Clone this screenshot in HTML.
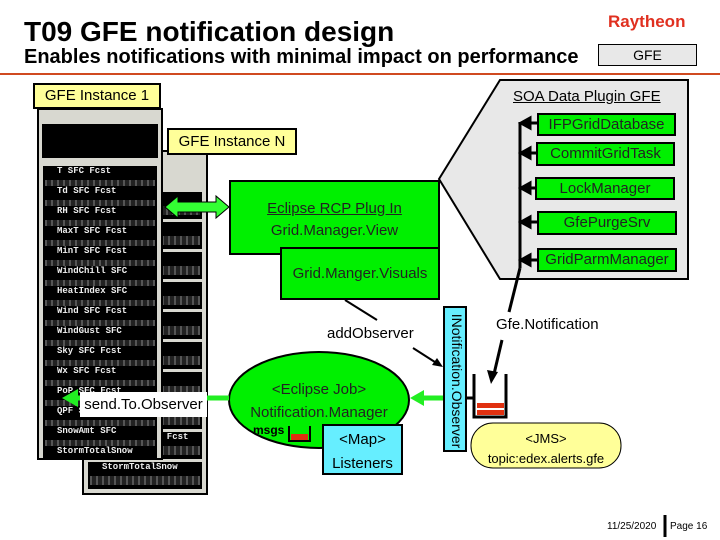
<!DOCTYPE html>
<html><head><meta charset="utf-8"><style>
body{margin:0;width:720px;height:540px;background:#fff;overflow:hidden;font-family:"Liberation Sans",sans-serif;position:relative}
.a{position:absolute}
.g{background:#00f000;border:2px solid #000;box-sizing:border-box;text-align:center;color:#222;font-size:15px}
.y{background:#ffff99;border:2px solid #000;box-sizing:border-box;font-size:15px;text-align:center}
.c{background:#66eeff;border:2px solid #000;box-sizing:border-box;text-align:center;font-size:15px}
.win{background:#d8d8d0;border:2px solid #000;box-sizing:border-box}
.row{position:absolute;left:4px;right:4px;height:27px;background:#000;color:#eee;font:bold 9px "Liberation Mono",monospace;padding-left:14px;box-sizing:border-box;white-space:nowrap;overflow:hidden}
.row:after{content:"";position:absolute;left:2px;right:2px;top:14px;height:9px;background:repeating-linear-gradient(90deg,#555 0 2px,#222 2px 6px)}
</style></head><body>
<div class="a" style="left:24px;top:16px;font-weight:bold;font-size:28px">T09 GFE notification design</div>
<div class="a" style="left:24px;top:46px;font-weight:bold;font-size:20px">Enables notifications with minimal impact on performance</div>
<div class="a" style="left:608px;top:12px;font-weight:bold;font-size:17px;color:#e03020">Raytheon</div>
<div class="a" style="left:598px;top:44px;width:99px;height:22px;background:#e8e8e8;border:1px solid #000;box-sizing:border-box;text-align:center;font-size:14px;line-height:20px">GFE</div>
<div class="a" style="left:0;top:73px;width:720px;height:2px;background:#d04a20"></div>

<!-- window N -->
<div class="a win" style="left:82px;top:150px;width:126px;height:345px">
<div class="row" style="top:40px;left:2px">.</div>
<div class="row" style="top:70px">X)</div><div class="row" style="top:100px">AX)</div><div class="row" style="top:130px">(OAX]</div><div class="row" style="top:160px">(OAX]</div><div class="row" style="top:190px">Fest [OA</div><div class="row" style="top:220px">Fest [OA</div><div class="row" style="top:250px">(OAX]</div><div class="row" style="top:280px">SnowAmt SFC Fcst</div><div class="row" style="top:310px">StormTotalSnow</div>
</div>
<!-- window 1 -->
<div class="a win" style="left:37px;top:108px;width:126px;height:352px">
<div class="a" style="left:3px;top:14px;right:3px;height:34px;background:#000"></div>
<div class="row" style="top:56px">T SFC Fcst</div><div class="row" style="top:76px">Td SFC Fcst</div><div class="row" style="top:96px">RH SFC Fcst</div><div class="row" style="top:116px">MaxT SFC Fcst</div><div class="row" style="top:136px">MinT SFC Fcst</div><div class="row" style="top:156px">WindChill SFC</div><div class="row" style="top:176px">HeatIndex SFC</div><div class="row" style="top:196px">Wind SFC Fcst</div><div class="row" style="top:216px">WindGust SFC</div><div class="row" style="top:236px">Sky SFC Fcst</div><div class="row" style="top:256px">Wx SFC Fcst</div><div class="row" style="top:276px">PoP SFC Fcst</div><div class="row" style="top:296px">QPF SFC</div><div class="row" style="top:316px">SnowAmt SFC</div><div class="row" style="top:336px;height:12px">StormTotalSnow</div>
</div>
<div class="a y" style="left:33px;top:83px;width:128px;height:26px;line-height:22px">GFE Instance 1</div>
<div class="a y" style="left:167px;top:128px;width:130px;height:27px;line-height:23px">GFE Instance N</div>

<svg class="a" style="left:0;top:0" width="720" height="540">
<polygon points="500,80 688,80 688,279 500,279 439,179" fill="#e8e8e8" stroke="#000" stroke-width="2"/>
<line x1="520" y1="122" x2="520" y2="268" stroke="#000" stroke-width="3"/>
<line x1="520" y1="268" x2="509" y2="312" stroke="#000" stroke-width="3"/>
<g fill="#000" stroke="#000" stroke-width="3">
<line x1="537" y1="123" x2="528" y2="123"/><polygon points="521,123 530,118 530,128"/>
<line x1="537" y1="153" x2="528" y2="153"/><polygon points="521,153 530,148 530,158"/>
<line x1="537" y1="188" x2="528" y2="188"/><polygon points="521,188 530,183 530,193"/>
<line x1="537" y1="222" x2="528" y2="222"/><polygon points="521,222 530,217 530,227"/>
<line x1="537" y1="260" x2="528" y2="260"/><polygon points="521,260 530,255 530,265"/>
</g>
<polygon points="165,207 178,196 178,202 216,202 216,196 229,207 216,218 216,212 178,212 178,218" fill="#33ff33" stroke="#000" stroke-width="1"/>
<ellipse cx="319" cy="400" rx="90" ry="48" fill="#00f000" stroke="#000" stroke-width="2"/>
<line x1="229" y1="398" x2="75" y2="398" stroke="#22ee22" stroke-width="5"/>
<polygon points="62,398 78,389 78,407" fill="#22ee22"/>
<line x1="443" y1="398" x2="420" y2="398" stroke="#22ee22" stroke-width="5"/>
<polygon points="410,398 424,390 424,406" fill="#22ee22"/>
<line x1="345" y1="300" x2="377" y2="320" stroke="#000" stroke-width="2"/>
<line x1="413" y1="348" x2="438" y2="364" stroke="#000" stroke-width="2"/>
<polygon points="443,367 432,365 437,358" fill="#000"/>
<path d="M289,426 V441 H310 V426" fill="none" stroke="#000" stroke-width="2"/>
<rect x="291" y="434" width="17" height="6" fill="#e03010"/>
<path d="M474,374 V417 H506 V374" fill="none" stroke="#000" stroke-width="3"/>
<rect x="477" y="403" width="27" height="5" fill="#e03010"/><rect x="477" y="410" width="27" height="5" fill="#e03010"/>
<line x1="467" y1="398" x2="474" y2="398" stroke="#000" stroke-width="3"/>
<line x1="502" y1="340" x2="494" y2="374" stroke="#000" stroke-width="3"/>
<polygon points="491,384 487,370 498,372" fill="#000"/>
<rect x="471" y="423" width="150" height="45" rx="22" fill="#ffff99" stroke="#000" stroke-width="1"/>
<line x1="665" y1="515" x2="665" y2="537" stroke="#000" stroke-width="3"/>
</svg>
<div class="a" style="left:513px;top:88px;font-size:15px;text-decoration:underline">SOA Data Plugin GFE</div>
<div class="a g" style="left:537px;top:113px;width:139px;height:23px;line-height:19px">IFPGridDatabase</div>
<div class="a g" style="left:536px;top:142px;width:139px;height:24px;line-height:20px">CommitGridTask</div>
<div class="a g" style="left:535px;top:177px;width:140px;height:23px;line-height:19px">LockManager</div>
<div class="a g" style="left:537px;top:211px;width:140px;height:24px;line-height:20px">GfePurgeSrv</div>
<div class="a g" style="left:537px;top:248px;width:140px;height:24px;line-height:20px">GridParmManager</div>

<div class="a g" style="left:229px;top:180px;width:211px;height:75px;padding-top:16px;line-height:22px"><span style="text-decoration:underline">Eclipse RCP Plug In</span><br>Grid.Manager.View</div>
<div class="a g" style="left:280px;top:247px;width:160px;height:53px;line-height:50px">Grid.Manger.Visuals</div>

<div class="a" style="left:327px;top:325px;font-size:15px">addObserver</div>
<div class="a" style="left:229px;top:378px;width:180px;text-align:center;font-size:15px;color:#222;line-height:23px">&lt;Eclipse Job&gt;<br>Notification.Manager</div>
<div class="a" style="left:253px;top:423px;font-size:12px;font-weight:bold">msgs</div>
<div class="a c" style="left:322px;top:424px;width:81px;height:51px;line-height:24px;padding-top:2px">&lt;Map&gt;<br>Listeners</div>
<div class="a" style="left:80px;top:392px;width:127px;height:25px;background:#fff;font-size:15px;text-align:center;line-height:25px">send.To.Observer</div>
<div class="a c" style="left:443px;top:306px;width:24px;height:146px"><div style="position:absolute;left:22px;top:1px;transform:rotate(90deg);transform-origin:0 0;white-space:nowrap;font-size:14px;line-height:20px;width:144px;text-align:center">INotification.Observer</div></div>
<div class="a" style="left:496px;top:316px;font-size:15px">Gfe.Notification</div>
<div class="a" style="left:471px;top:429px;width:150px;text-align:center;font-size:13px;line-height:20px">&lt;JMS&gt;<br>topic:edex.alerts.gfe</div>
<div class="a" style="left:607px;top:521px;font-size:10px">11/25/2020</div>
<div class="a" style="left:670px;top:521px;font-size:10px">Page 16</div>
</body></html>
